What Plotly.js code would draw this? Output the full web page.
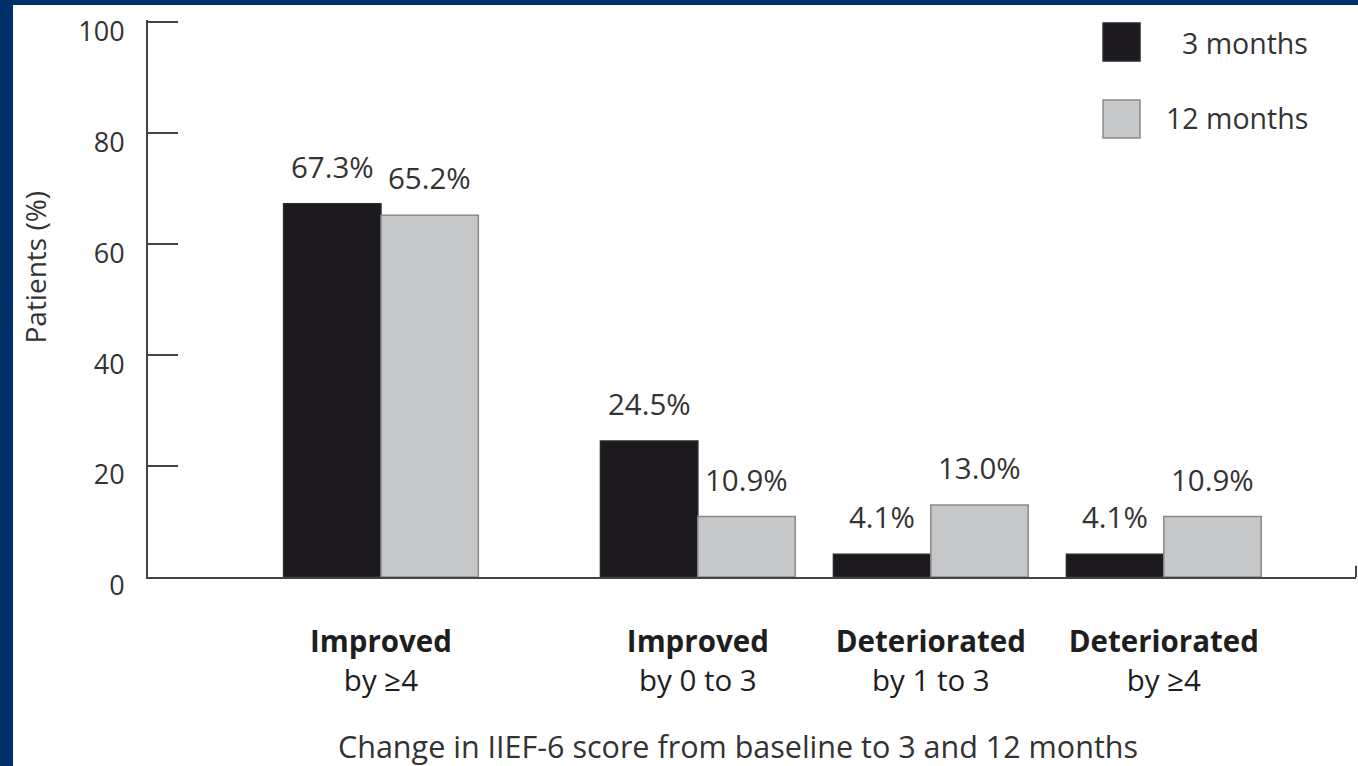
<!DOCTYPE html>
<html>
<head>
<meta charset="utf-8">
<script src="https://cdn.plot.ly/plotly-3.0.1.min.js"></script>
<style>
  html, body { margin: 0; padding: 0; background: #00306a; width: 1358px; height: 766px; overflow: hidden; }
  #chart { position: absolute; left: 13px; top: 5px; width: 1345px; height: 761px; background: #ffffff; }
</style>
</head>
<body>
<div id="chart"></div>
<script>
// ---- data ----
const categoryTop = ["Improved", "Improved", "Deteriorated", "Deteriorated"];
const categoryBottom = ["by \u22654", "by 0 to 3", "by 1 to 3", "by \u22654"];
const seriesNames = ["3 months", "12 months"];
const months3 = [67.3, 24.5, 4.1, 4.1];
const months12 = [65.2, 10.9, 13.0, 10.9];
const yTicks = [0, 20, 40, 60, 80, 100];
const xTitle = "Change in IIEF-6 score from baseline to 3 and 12 months";
const yTitle = "Patients (%)";

// ---- layout configuration ----
const groupPositions = [0, 1.36, 2.36, 3.36];
const barWidth = 0.418;
const colors = ["#1c1a1f", "#c5c7c9"];
const lineColors = ["#2a2a2a", "#8a8a8a"];
const font = "Open Sans, Noto Sans, sans-serif";
const textColor = "#333333";

const series = [months3, months12];
const offsets = [-barWidth, 0];

const traces = series.map((vals, i) => ({
  type: "bar",
  name: seriesNames[i],
  x: groupPositions,
  y: vals,
  width: barWidth,
  offset: offsets[i],
  marker: { color: colors[i], line: { color: lineColors[i], width: 1.5 } },
  hoverinfo: "skip",
  showlegend: false
}));

const annotations = [];
series.forEach((vals, i) => {
  vals.forEach((v, j) => {
    annotations.push({
      x: groupPositions[j] + offsets[i] + barWidth / 2,
      y: v,
      xref: "x", yref: "y",
      text: v.toFixed(1) + "%",
      showarrow: false,
      xanchor: "center", yanchor: "bottom",
      yshift: 15,
      font: { family: font, size: 29.5, color: textColor }
    });
  });
});

// legend (drawn manually)
const legendY = [[0.9264, 0.9946], [0.7882, 0.8564]];
const legendTextY = [0.9596, 0.8232];
const shapes = [];
seriesNames.forEach((name, i) => {
  shapes.push({
    type: "rect", xref: "paper", yref: "paper",
    x0: 0.7906, x1: 0.8212, y0: legendY[i][0], y1: legendY[i][1],
    fillcolor: colors[i], line: { color: lineColors[i], width: 1.5 }
  });
  annotations.push({
    xref: "paper", yref: "paper", x: 0.9619, y: legendTextY[i],
    xanchor: "right", yanchor: "middle", showarrow: false,
    text: name, font: { family: font, size: 28.5, color: textColor }
  });
});
// small end tick on x axis
shapes.push({
  type: "line", xref: "paper", yref: "paper",
  x0: 1, x1: 1, y0: 0, y1: 0.02,
  line: { color: "#444444", width: 2 }
});

// axis titles
annotations.push({
  xref: "paper", yref: "paper", x: 0.488, y: -0.3034,
  xanchor: "center", yanchor: "middle", showarrow: false,
  text: xTitle, font: { family: font, size: 30.5, color: textColor }
});
annotations.push({
  xref: "paper", yref: "paper", x: -0.0935, y: 0.5557,
  xanchor: "center", yanchor: "middle", showarrow: false, textangle: -90,
  text: yTitle, font: { family: font, size: 28, color: textColor }
});

const layout = {
  width: 1345, height: 761,
  margin: { l: 135, r: 2, t: 15, b: 189 },
  paper_bgcolor: "#ffffff", plot_bgcolor: "#ffffff",
  barmode: "overlay",
  showlegend: false,
  xaxis: {
    range: [-1, 4.185],
    showgrid: false, zeroline: false,
    showline: true, linecolor: "#444444", linewidth: 2,
    ticks: "",
    tickvals: groupPositions,
    ticktext: categoryTop.map((t, i) => "<b>" + t + "</b><br>" + categoryBottom[i]),
    tickfont: { family: font, size: 29.5, color: "#1e1e1e" },
    ticklabelstandoff: 38,
    fixedrange: true
  },
  yaxis: {
    range: [0, 100.4],
    showgrid: false, zeroline: false,
    showline: true, linecolor: "#444444", linewidth: 2,
    ticks: "inside", ticklen: 30, tickwidth: 2, tickcolor: "#444444",
    tickvals: yTicks,
    ticktext: yTicks.map(String),
    tickfont: { family: font, size: 27, color: textColor },
    ticklabelshift: 9,
    ticklabelstandoff: 16,
    fixedrange: true
  },
  shapes: shapes,
  annotations: annotations
};

Plotly.newPlot("chart", traces, layout, { displayModeBar: false, staticPlot: true });
</script>
</body>
</html>
